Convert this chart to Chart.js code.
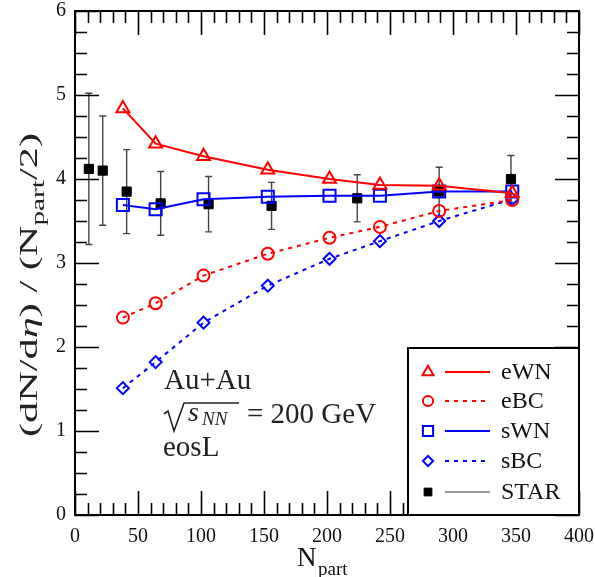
<!DOCTYPE html>
<html>
<head>
<meta charset="utf-8">
<script src="https://cdn.jsdelivr.net/npm/chart.js@4/dist/chart.umd.min.js"></script>
<style>
  html, body { margin: 0; padding: 0; background: #fff; }
  canvas { display: block; }
</style>
</head>
<body>
<canvas id="chart" width="595" height="577"></canvas>
<script>
// model curves (hydro, eosL) and STAR data
const modelNpart = [38, 64, 102, 153, 202, 242, 289, 347];
const eWN = [4.84, 4.42, 4.27, 4.11, 4.00, 3.93, 3.92, 3.83];
const eBC = [2.35, 2.52, 2.85, 3.11, 3.30, 3.43, 3.62, 3.75];
const sWN = [3.69, 3.64, 3.76, 3.79, 3.80, 3.80, 3.85, 3.85];
const sBC = [1.51, 1.82, 2.29, 2.73, 3.05, 3.26, 3.50, 3.76];

const starNpart = [11, 22, 41, 68, 106, 156, 224, 289, 346];
const starValue = [4.12, 4.10, 3.85, 3.71, 3.70, 3.68, 3.77, 3.85, 4.00];
const starError = [0.90, 0.65, 0.50, 0.38, 0.33, 0.28, 0.28, 0.29, 0.28];

const seriesLabels = ['eWN', 'eBC', 'sWN', 'sBC', 'STAR'];
const annotationLines = ['Au+Au', '= 200 GeV', 'eosL'];

const serif = '"Liberation Serif", "Times New Roman", serif';
const RED = '#ff0000';
const BLUE = '#0000ff';

function points(xs, ys) {
    return xs.map((x, i) => ({ x: x, y: ys[i] }));
}

function lineSet(label, ys, color, style, radius, dash) {
    return {
        label: label,
        data: points(modelNpart, ys),
        showLine: true,
        borderColor: color,
        borderWidth: 2,
        borderDash: dash,
        pointStyle: style,
        pointRadius: radius,
        pointHoverRadius: radius,
        pointBorderWidth: 2,
        pointBorderColor: color,
        pointBackgroundColor: 'rgba(0,0,0,0)',
        backgroundColor: 'rgba(0,0,0,0)',
        tension: 0
    };
}

const errorBars = {
    id: 'errorBars',
    beforeDatasetsDraw(chart) {
        const ctx = chart.ctx;
        const xs = chart.scales.x, ys = chart.scales.y;
        ctx.save();
        ctx.strokeStyle = '#444';
        ctx.lineWidth = 1.4;
        starNpart.forEach((n, i) => {
            const px = xs.getPixelForValue(n);
            const top = ys.getPixelForValue(starValue[i] + starError[i]);
            const bot = ys.getPixelForValue(starValue[i] - starError[i]);
            ctx.beginPath();
            ctx.moveTo(px, top); ctx.lineTo(px, bot);
            ctx.moveTo(px - 3.5, top); ctx.lineTo(px + 3.5, top);
            ctx.moveTo(px - 3.5, bot); ctx.lineTo(px + 3.5, bot);
            ctx.stroke();
        });
        ctx.restore();
    }
};

function drawFrameAndTicks(chart) {
    const ctx = chart.ctx;
    const a = chart.chartArea;
    const xs = chart.scales.x, ys = chart.scales.y;
    ctx.save();
    ctx.strokeStyle = '#000';
    ctx.lineWidth = 1.6;
    ctx.beginPath();
    for (let v = 0; v <= 400; v += 10) {
        const px = Math.round(xs.getPixelForValue(v)) + 0.5;
        const len = v % 50 === 0 ? 24 : 12;
        ctx.moveTo(px, a.bottom); ctx.lineTo(px, a.bottom - len);
        ctx.moveTo(px, a.top); ctx.lineTo(px, a.top + len);
    }
    for (let k = 0; k <= 24; k++) {
        const py = Math.round(ys.getPixelForValue(k / 4)) + 0.5;
        const len = k % 4 === 0 ? 24 : 12;
        ctx.moveTo(a.left, py); ctx.lineTo(a.left + len, py);
        ctx.moveTo(a.right, py); ctx.lineTo(a.right - len, py);
    }
    ctx.stroke();
    ctx.lineWidth = 2;
    ctx.strokeRect(a.left, a.top, a.right - a.left, a.bottom - a.top);
    ctx.restore();
}

function drawAxisTitles(chart) {
    const ctx = chart.ctx;
    ctx.save();
    ctx.fillStyle = '#111';
    ctx.textBaseline = 'alphabetic';
    // x title: N_part
    ctx.font = '27px ' + serif;
    ctx.fillText('N', 297, 566);
    ctx.font = '19px ' + serif;
    ctx.fillText('part', 318, 575);

    // y title: (dN/dη) / (N_part/2), rotated
    const big = '26px ' + serif;
    const ital = 'italic 26px ' + serif;
    const small = '18px ' + serif;
    const parts = [
        { t: '(dN/d', f: big, dy: 0 },
        { t: 'η', f: ital, dy: 0 },
        { t: ') / (N', f: big, dy: 0 },
        { t: 'part', f: small, dy: 7 },
        { t: '/2)', f: big, dy: 0 }
    ];
    let total = 0;
    parts.forEach(p => { ctx.font = p.f; p.w = ctx.measureText(p.t).width; total += p.w; });
    ctx.fillStyle = '#222';
    ctx.translate(37, 437);
    ctx.rotate(-Math.PI / 2);
    ctx.scale(304 / total, 1);
    let x = 0;
    parts.forEach(p => { ctx.font = p.f; ctx.fillText(p.t, x, p.dy); x += p.w; });
    ctx.restore();
}

function drawAnnotation(chart) {
    const ctx = chart.ctx;
    ctx.save();
    ctx.fillStyle = '#222';
    ctx.strokeStyle = '#222';
    ctx.font = '29px ' + serif;
    ctx.fillText(annotationLines[0], 164, 389);
    // sqrt(s_NN)
    ctx.lineWidth = 1.6;
    ctx.beginPath();
    ctx.moveTo(164, 414);
    ctx.lineTo(168, 411);
    ctx.lineTo(174, 431);
    ctx.lineTo(184, 403);
    ctx.lineTo(239, 403);
    ctx.stroke();
    ctx.font = 'italic 28px ' + serif;
    ctx.fillText('s', 188, 421);
    ctx.font = 'italic 19px ' + serif;
    ctx.fillText('NN', 202, 425);
    ctx.font = '29px ' + serif;
    ctx.fillText(annotationLines[1], 247, 423);
    ctx.fillText(annotationLines[2], 163, 456);
    ctx.restore();
}

function drawLegend(chart) {
    const ctx = chart.ctx;
    const a = chart.chartArea;
    const box = { left: 408, top: 348, right: a.right, bottom: a.bottom };
    ctx.save();
    ctx.fillStyle = '#fff';
    ctx.fillRect(box.left, box.top, box.right - box.left, box.bottom - box.top);
    ctx.strokeStyle = '#000';
    ctx.lineWidth = 2;
    ctx.strokeRect(box.left, box.top, box.right - box.left, box.bottom - box.top);
    const rowY = [372, 401, 431, 461, 492];
    chart.data.datasets.forEach((ds) => {
        const i = seriesLabels.indexOf(ds.label);
        const y = rowY[i];
        const isStar = ds.label === 'STAR';
        // line sample
        ctx.save();
        ctx.strokeStyle = isStar ? '#777' : ds.borderColor;
        ctx.lineWidth = isStar ? 1.6 : 1.8;
        ctx.setLineDash(ds.borderDash || []);
        ctx.beginPath();
        ctx.moveTo(445, y); ctx.lineTo(490, y);
        ctx.stroke();
        ctx.restore();
        // marker
        ctx.save();
        ctx.strokeStyle = ds.pointBorderColor;
        ctx.fillStyle = ds.pointBackgroundColor;
        ctx.lineWidth = ds.pointBorderWidth;
        Chart.helpers.drawPoint(ctx, {
            pointStyle: ds.pointStyle,
            radius: isStar ? 5.5 : ds.pointRadius * 0.85,
            rotation: 0,
            borderWidth: ds.pointBorderWidth
        }, 428, y);
        ctx.restore();
        ctx.fillStyle = '#111';
        ctx.font = '24px ' + serif;
        ctx.textBaseline = 'middle';
        ctx.fillText(ds.label, 501, y + 1);
    });
    ctx.restore();
}

const decorations = {
    id: 'decorations',
    afterDraw(chart) {
        drawFrameAndTicks(chart);
        drawAxisTitles(chart);
        drawAnnotation(chart);
        drawLegend(chart);
    }
};

const starSet = {
    label: 'STAR',
    data: points(starNpart, starValue),
    showLine: false,
    pointStyle: 'rect',
    pointRadius: 6.5,
    pointHoverRadius: 6.5,
    pointBorderWidth: 1,
    pointBorderColor: '#000',
    pointBackgroundColor: '#000',
    borderColor: '#000',
    backgroundColor: '#000'
};

new Chart(document.querySelector('#chart').getContext('2d'), {
    type: 'scatter',
    data: {
        datasets: [
            lineSet('eWN', eWN, RED, 'triangle', 7.5, []),
            lineSet('eBC', eBC, RED, 'circle', 6, [4, 5]),
            lineSet('sWN', sWN, BLUE, 'rect', 8.5, []),
            lineSet('sBC', sBC, BLUE, 'rectRot', 6, [4, 5]),
            starSet
        ]
    },
    options: {
        responsive: false,
        animation: false,
        devicePixelRatio: 1,
        layout: { padding: { top: 11, right: 16, left: 0, bottom: 0 } },
        plugins: {
            legend: { display: false },
            tooltip: { enabled: false }
        },
        scales: {
            x: {
                type: 'linear',
                min: 0, max: 400,
                grid: { display: false, drawTicks: false },
                border: { display: false },
                ticks: { stepSize: 50, padding: 10, color: '#111', font: { family: serif, size: 20 }, maxRotation: 0 },
                afterFit: (scale) => {
                    scale.height = 62;
                    scale.paddingLeft = 0;
                    scale.paddingRight = 0;
                }
            },
            y: {
                type: 'linear',
                min: 0, max: 6,
                grid: { display: false, drawTicks: false },
                border: { display: false },
                ticks: { stepSize: 1, padding: 9, color: '#111', font: { family: serif, size: 20 } },
                afterFit: (scale) => {
                    scale.width = 75;
                    scale.paddingTop = 0;
                    scale.paddingBottom = 0;
                }
            }
        }
    },
    plugins: [errorBars, decorations]
});
</script>
</body>
</html>
